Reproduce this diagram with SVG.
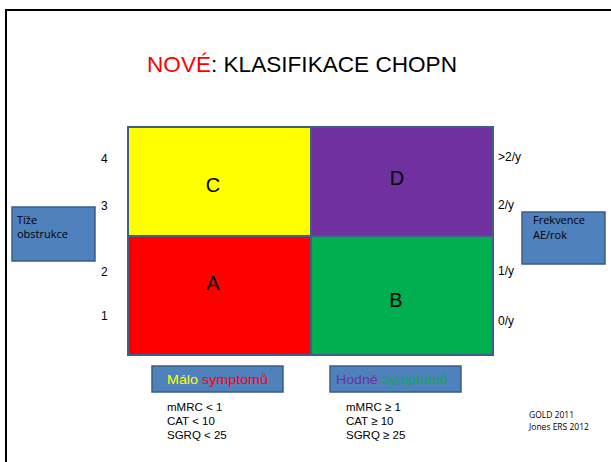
<svg xmlns="http://www.w3.org/2000/svg" width="611" height="462" viewBox="0 0 611 462">
<style>
.lbl{font-family:"Liberation Sans",Arial,sans-serif;font-size:12px;fill:#000}
.big{font-family:"Liberation Sans",Arial,sans-serif;font-size:20px;fill:#000;text-anchor:middle}
.box{fill:#4f81bd;stroke:#385d8a;stroke-width:1.5}
.bt{font-family:"Open Sans","Liberation Sans",sans-serif;font-size:11px;fill:#000}
.crit{font-family:"Liberation Sans",Arial,sans-serif;font-size:11.5px;fill:#000}
.ref{font-family:"Open Sans","Liberation Sans",sans-serif;font-size:8.5px;fill:#000}
.sym{font-family:"Liberation Sans",Arial,sans-serif;font-size:13.5px}
</style>
<rect x="0" y="0" width="611" height="462" fill="#fff"/>
<rect x="6" y="10" width="640" height="480" fill="none" stroke="#000" stroke-width="2"/>
<g id="title">
<text x="302" y="72" font-family="Liberation Sans,Arial,sans-serif" font-size="22.5" text-anchor="middle" textLength="310" lengthAdjust="spacingAndGlyphs"><tspan fill="#ff0000">NOVÉ</tspan><tspan fill="#000">: KLASIFIKACE CHOPN</tspan></text>
</g>
<g id="grid">
<rect x="127" y="126" width="367" height="230" fill="#3f5f8a"/>
<g id="C"><rect x="129" y="128" width="181" height="107" fill="#ffff00"/><text class="big" x="213" y="192">C</text></g>
<g id="D"><rect x="312" y="128" width="180" height="107" fill="#7030a0"/><text class="big" x="397" y="185">D</text></g>
<g id="A"><rect x="129" y="237" width="181" height="117" fill="#ff0000"/><text class="big" x="213" y="290">A</text></g>
<g id="B"><rect x="312" y="237" width="180" height="117" fill="#00b050"/><text class="big" x="396" y="307">B</text></g>
</g>
<g id="yaxis">
<text class="lbl" x="101" y="163">4</text>
<text class="lbl" x="101" y="210">3</text>
<text class="lbl" x="101" y="276">2</text>
<text class="lbl" x="101" y="320">1</text>
</g>
<g id="xaxis-right">
<text class="lbl" x="498" y="161">&gt;2/y</text>
<text class="lbl" x="498" y="209">2/y</text>
<text class="lbl" x="498" y="275">1/y</text>
<text class="lbl" x="498" y="325">0/y</text>
</g>
<g id="tize">
<rect class="box" x="12" y="207" width="83" height="54"/>
<text class="bt" x="17" y="224">Tíže</text>
<text class="bt" x="17" y="238">obstrukce</text>
</g>
<g id="frekvence">
<rect class="box" x="522" y="212" width="83" height="52"/>
<text class="bt" x="533" y="224">Frekvence</text>
<text class="bt" x="533" y="239">AE/rok</text>
</g>
<g id="malo">
<rect class="box" x="152" y="366" width="131" height="26"/>
<text class="sym" x="167" y="384" textLength="101" lengthAdjust="spacingAndGlyphs"><tspan fill="#ffff00">Málo</tspan> <tspan fill="#ff0000">symptomů</tspan></text>
</g>
<g id="hodne">
<rect class="box" x="330" y="366" width="131" height="26"/>
<text class="sym" x="336" y="384" textLength="111" lengthAdjust="spacingAndGlyphs"><tspan fill="#7030a0">Hodně</tspan> <tspan fill="#00b050">symptomů</tspan></text>
</g>
<g id="crit-left">
<text class="crit" x="167" y="411">mMRC &lt; 1</text>
<text class="crit" x="167" y="425">CAT &lt; 10</text>
<text class="crit" x="167" y="439">SGRQ &lt; 25</text>
</g>
<g id="crit-right">
<text class="crit" x="346" y="411">mMRC ≥ 1</text>
<text class="crit" x="346" y="425">CAT ≥ 10</text>
<text class="crit" x="346" y="439">SGRQ ≥ 25</text>
</g>
<g id="refs">
<text class="ref" x="529" y="418">GOLD 2011</text>
<text class="ref" x="529" y="430">Jones ERS 2012</text>
</g>
</svg>
